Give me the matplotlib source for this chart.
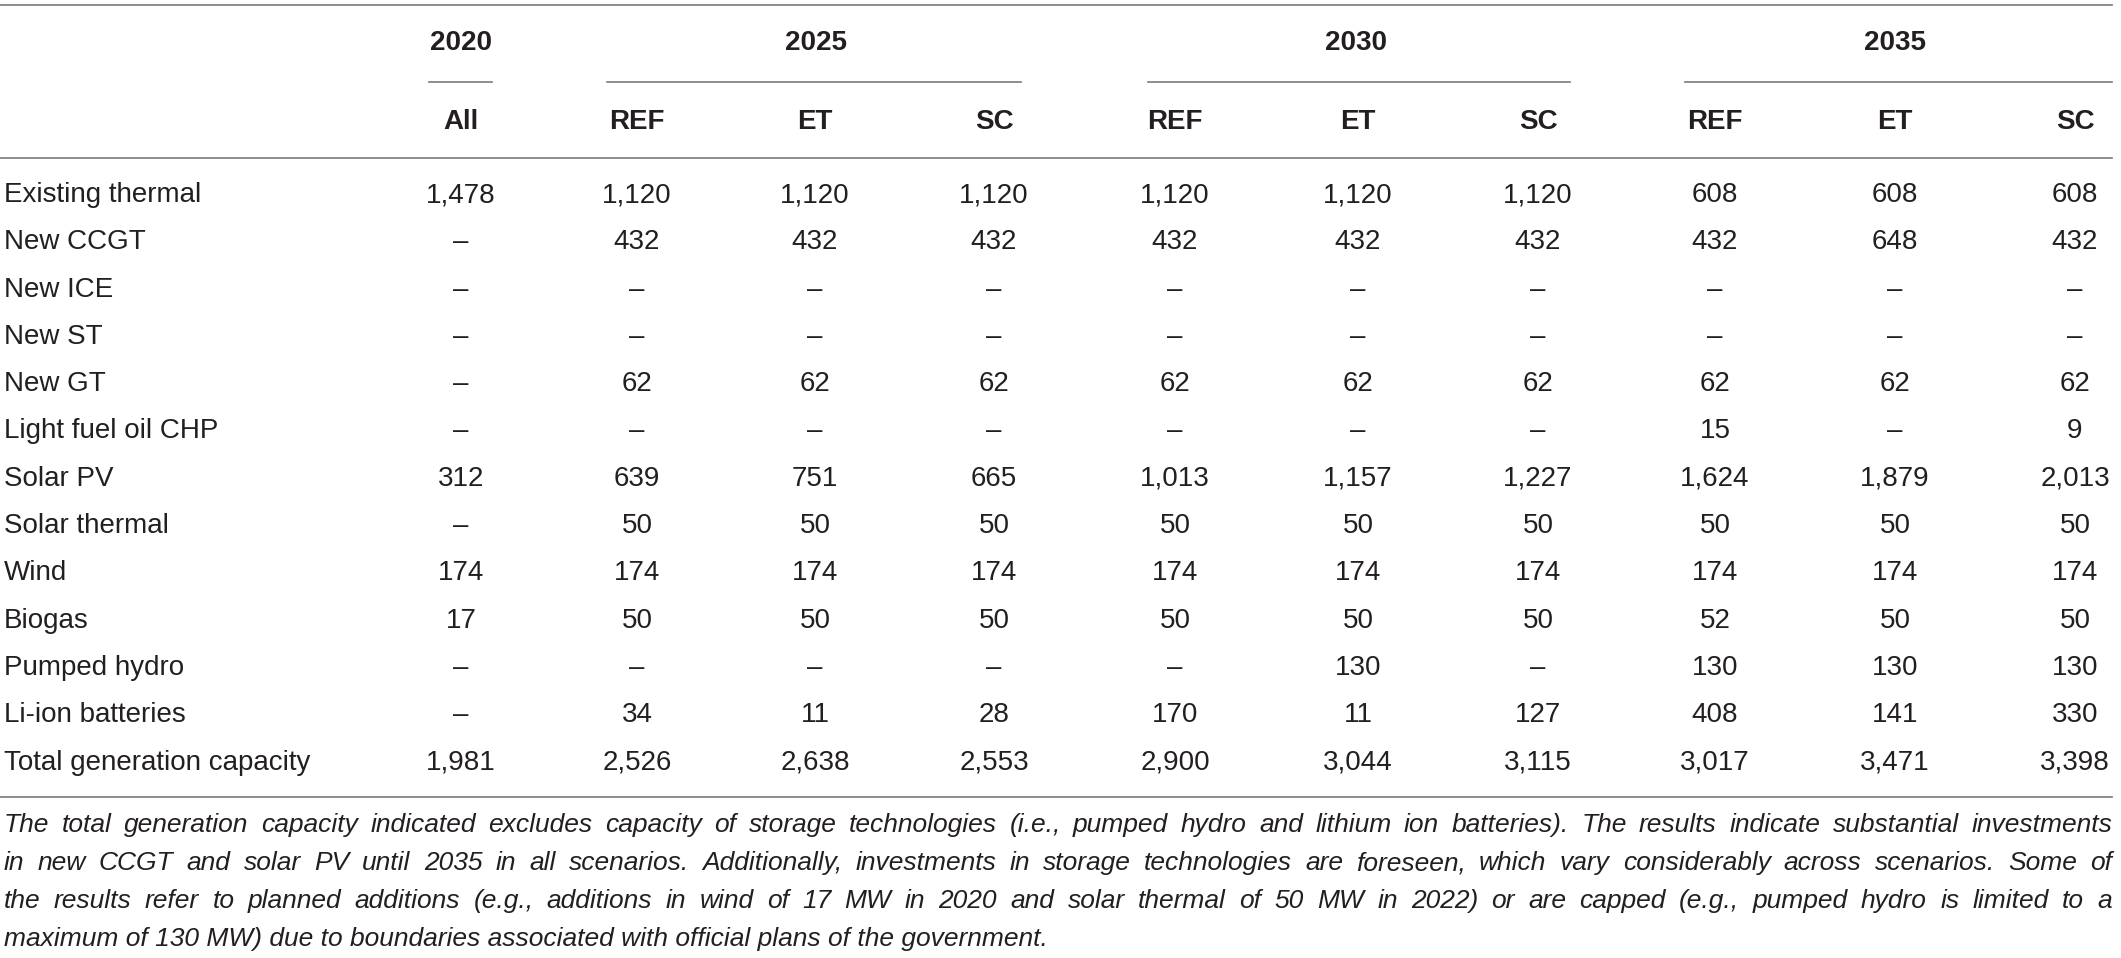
import matplotlib
matplotlib.use("Agg")
import matplotlib.pyplot as plt

## table data
years = ["2020", "2025", "2030", "2035"]
scenarios = [["All"], ["REF", "ET", "SC"], ["REF", "ET", "SC"], ["REF", "ET", "SC"]]

rows = ["Existing thermal", "New CCGT", "New ICE", "New ST", "New GT",
        "Light fuel oil CHP", "Solar PV", "Solar thermal", "Wind", "Biogas",
        "Pumped hydro", "Li-ion batteries", "Total generation capacity"]

# None = no capacity (shown as a dash)
existing_thermal = [1478, 1120, 1120, 1120, 1120, 1120, 1120, 608, 608, 608]
new_ccgt = [None, 432, 432, 432, 432, 432, 432, 432, 648, 432]
new_ice = [None] * 10
new_st = [None] * 10
new_gt = [None, 62, 62, 62, 62, 62, 62, 62, 62, 62]
light_fuel_oil = [None, None, None, None, None, None, None, 15, None, 9]
solar_pv = [312, 639, 751, 665, 1013, 1157, 1227, 1624, 1879, 2013]
solar_thermal = [None, 50, 50, 50, 50, 50, 50, 50, 50, 50]
wind = [174, 174, 174, 174, 174, 174, 174, 174, 174, 174]
biogas = [17, 50, 50, 50, 50, 50, 50, 52, 50, 50]
pumped_hydro = [None, None, None, None, None, 130, None, 130, 130, 130]
li_ion = [None, 34, 11, 28, 170, 11, 127, 408, 141, 330]
total = [1981, 2526, 2638, 2553, 2900, 3044, 3115, 3017, 3471, 3398]

values = [existing_thermal, new_ccgt, new_ice, new_st, new_gt, light_fuel_oil,
          solar_pv, solar_thermal, wind, biogas, pumped_hydro, li_ion, total]

note = [
    "The total generation capacity indicated excludes capacity of storage technologies (i.e., pumped hydro and lithium ion batteries). The results indicate substantial investments",
    "in new CCGT and solar PV until 2035 in all scenarios. Additionally, investments in storage technologies are foreseen, which vary considerably across scenarios. Some of",
    "the results refer to planned additions (e.g., additions in wind of 17 MW in 2020 and solar thermal of 50 MW in 2022) or are capped (e.g., pumped hydro is limited to a",
    "maximum of 130 MW) due to boundaries associated with official plans of the government.",
]

## layout (pixels)
W, H = 2121, 958
col_x = [461, 637, 815, 994, 1175, 1358, 1538, 1715, 1895, 2075]
rule_x = [(429, 492), (607, 1021), (1148, 1570), (1685, 2112)]
y_year, y_rule, y_scen, y_head = 43, 82, 122, 158
y_top, y_bottom = 5, 797
row_y0, row_dy = 195, 47.3
note_y0, note_dy = 825, 38
x_left, x_right = 4, 2112

txt = "#231f20"
line_c = "#7a7a7a"
plt.rcParams["font.family"] = ["Liberation Sans", "DejaVu Sans"]
fs = 20

fig = plt.figure(figsize=(W / 100, H / 100), dpi=100)
ax = fig.add_axes([0, 0, 1, 1])
ax.set_xlim(0, W)
ax.set_ylim(H, 0)
ax.axis("off")

# rules
for y in (y_top, y_head, y_bottom):
    ax.plot([0, x_right], [y, y], color=line_c, lw=1.2)
for x0, x1 in rule_x:
    ax.plot([x0, x1], [y_rule, y_rule], color=line_c, lw=1.2)

# header
k = 0
for yr, sc in zip(years, scenarios):
    xs = col_x[k:k + len(sc)]
    ax.text((xs[0] + xs[-1]) / 2, y_year, yr, ha="center", va="center",
            fontsize=fs, fontweight="bold", color=txt)
    for x, s in zip(xs, sc):
        ax.text(x, y_scen, s, ha="center", va="center",
                fontsize=fs, fontweight="bold", color=txt)
    k += len(sc)

# body
for i, (name, vals) in enumerate(zip(rows, values)):
    y = row_y0 + i * row_dy
    ax.text(x_left, y, name, ha="left", va="center", fontsize=fs, color=txt)
    for x, v in zip(col_x, vals):
        s = "\u2013" if v is None else f"{v:,}"
        ax.text(x, y, s, ha="center", va="center", fontsize=fs, color=txt)

# justified footnote
r = fig.canvas.get_renderer()
for j, line in enumerate(note):
    y = note_y0 + j * note_dy
    if j == len(note) - 1:
        ax.text(x_left, y, line, ha="left", va="center", fontsize=19,
                style="italic", color=txt)
        continue
    words = line.split(" ")
    items = [ax.text(0, y, w_, ha="left", va="center", fontsize=19,
                     style="italic", color=txt) for w_ in words]
    widths = [t.get_window_extent(r).width for t in items]
    gap = (x_right - x_left - sum(widths)) / (len(words) - 1)
    x = x_left
    for t, w_ in zip(items, widths):
        t.set_x(x)
        x += w_ + gap

fig.savefig("out.png", dpi=100)
